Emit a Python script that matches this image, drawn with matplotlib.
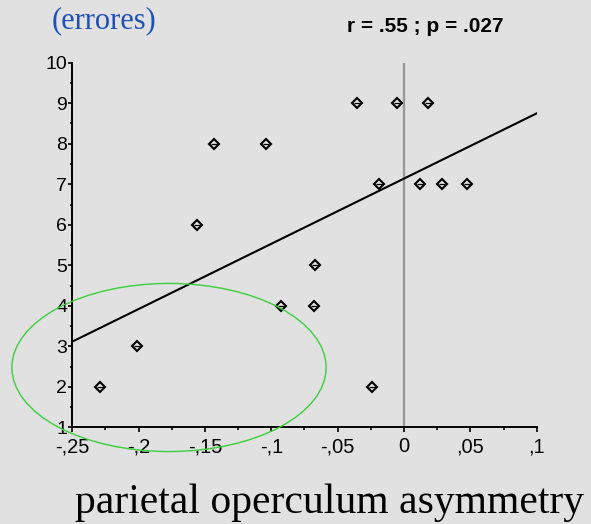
import numpy as np
import matplotlib as mpl
import matplotlib.pyplot as plt
from matplotlib.patches import Ellipse

mpl.use('Agg')

# asimetria do operculo parietal x erros
asimetria = [-0.0353, -0.0054, 0.0183, -0.1431, -0.1039, -0.0185, 0.0117, 0.0288,
             0.0474, -0.156, -0.067, -0.0926, -0.0677, -0.2012, -0.2291, -0.024]
erros = [9, 9, 9, 8, 8, 7, 7, 7, 7, 6, 5, 4, 4, 3, 2, 2]

# reta de regressao
reta_intercepto = 7.14
reta_inclinacao = 16.1

x_ticks = [-0.25, -0.2, -0.15, -0.1, -0.05, 0, 0.05, 0.1]
x_tick_labels = ["-,25", "-,2", "-,15", "-,1", "-,05", "0", ",05", ",1"]
y_ticks = [1, 2, 3, 4, 5, 6, 7, 8, 9, 10]

# elipse verde (centro x, centro y, largura, altura)
elipse = (-0.1771, 2.477, 0.2368, 4.15)

fundo = "#e1e1e1"
sans = ["Liberation Sans", "DejaVu Sans"]
serif = ["Liberation Serif", "DejaVu Serif"]

fig = plt.figure(figsize=(5.91, 5.24), dpi=100, facecolor=fundo)
ax = fig.add_axes([0.1223, 0.1845, 0.9081 - 0.1223, 0.8803 - 0.1845])
ax.set_facecolor(fundo)

ax.axvline(0, color="#9a9a9a", lw=1.7, zorder=1)

xr = np.array([x_ticks[0], x_ticks[-1]])
ax.plot(xr, reta_intercepto + reta_inclinacao * xr, color="black", lw=1.5, zorder=2)

ax.plot(asimetria, erros, linestyle="none", marker="D", markersize=4.9,
        markerfacecolor="none", markeredgecolor="black", markeredgewidth=1.5, zorder=3)
ax.plot(asimetria, erros, linestyle="none", marker="_", markersize=4,
        markeredgecolor="black", markeredgewidth=0.9, zorder=3)

ax.add_patch(Ellipse((elipse[0], elipse[1]), elipse[2], elipse[3], fill=False,
                     edgecolor="#3ccf3c", lw=1.0, clip_on=False, zorder=4))

ax.set_xlim(x_ticks[0], x_ticks[-1])
ax.set_ylim(y_ticks[0], y_ticks[-1])
for s in ["top", "right"]:
    ax.spines[s].set_visible(False)
for s in ["left", "bottom"]:
    ax.spines[s].set_linewidth(1.4)

ax.set_xticks(x_ticks)
ax.set_xticklabels(x_tick_labels, fontfamily=sans, fontsize=14.5)
ax.set_xticks(np.arange(-0.25, 0.1001, 0.025), minor=True)
ax.set_yticks(y_ticks)
ax.set_yticklabels([str(v) for v in y_ticks], fontfamily=sans, fontsize=14)
ax.set_yticks(np.arange(1.5, 10, 1.0), minor=True)
ax.tick_params(axis="x", which="major", length=3.5, width=1.2, pad=3.5)
ax.tick_params(axis="x", which="minor", length=2.5, width=1.2)
ax.tick_params(axis="y", which="major", length=3.2, width=1.2, pad=0.5)
ax.tick_params(axis="y", which="minor", length=1.8, width=1.2)

fig.text(51.7 / 591, 1 - 28 / 524, "(errores)", fontfamily=serif, fontsize=22,
         color="#1f4fb8", ha="left", va="baseline")
fig.text(347 / 591, 1 - 31.5 / 524, "r = .55 ; p = .027", fontfamily=sans,
         fontsize=15, fontweight="bold", ha="left", va="baseline")
fig.text(75 / 591, 1 - 513 / 524, "parietal operculum asymmetry", fontfamily=serif,
         fontsize=30, ha="left", va="baseline")

plt.savefig("out.png", dpi=100, facecolor=fundo)
